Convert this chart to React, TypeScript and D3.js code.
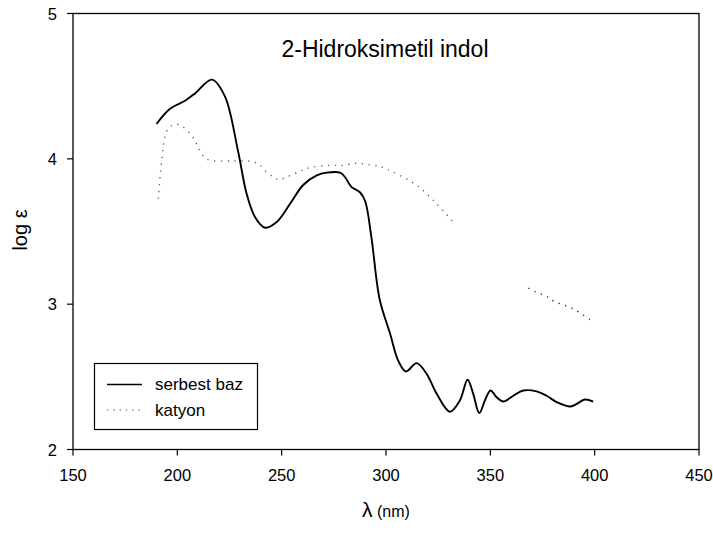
import React from "react";
import * as d3 from "d3";

const title = "2-Hidroksimetil indol";
const xTicks = [150, 200, 250, 300, 350, 400, 450];
const yTicks = [2, 3, 4, 5];

const bazX = [190, 196.5, 203.7, 208.5, 216.6, 222.8, 229, 233.2, 237.2, 242, 247.6, 254, 260.3, 266.8, 271.5, 278, 280.3, 283.5, 287.5, 290, 293, 297, 301.9, 305.9, 309.6, 314.7, 319.5, 324.3, 330.6, 335.4, 339.1, 341.8, 344.7, 347.4, 350.1, 353, 356.2, 361, 365.8, 372.2, 377, 381.8, 388.5, 391.4, 395.3, 399.3];
const bazY = [4.24, 4.345, 4.40, 4.45, 4.545, 4.43, 4.06, 3.76, 3.60, 3.526, 3.565, 3.69, 3.82, 3.886, 3.905, 3.905, 3.875, 3.805, 3.77, 3.71, 3.46, 3.03, 2.80, 2.61, 2.537, 2.594, 2.52, 2.383, 2.26, 2.337, 2.48, 2.383, 2.25, 2.337, 2.406, 2.36, 2.33, 2.37, 2.406, 2.40, 2.37, 2.326, 2.296, 2.314, 2.344, 2.33];

const katX = [190.9, 192.5, 194.1, 195.7, 198.9, 201.6, 206.9, 209.3, 212.4, 215.6, 226.8, 236.4, 239.6, 242.8, 246, 248.7, 251.6, 258, 263.6, 273.1, 279.5, 285.9, 291.5, 297.1, 300.8, 306.7, 315.5, 324.3, 332.2, 368.2, 371.4, 377.5, 380.5, 389.7, 399];
const katY = [3.725, 3.99, 4.15, 4.21, 4.237, 4.23, 4.16, 4.10, 4.02, 3.99, 3.985, 3.98, 3.955, 3.91, 3.875, 3.856, 3.87, 3.91, 3.94, 3.955, 3.955, 3.97, 3.96, 3.948, 3.927, 3.886, 3.81, 3.69, 3.565, 3.11, 3.087, 3.05, 3.02, 2.968, 2.88];
// a faint gap in the dotted curve between these wavelengths
const katGapFrom = 333;
const katGapTo = 367;

const legendNames = ["serbest baz", "katyon"];

export default function App() {
  const W = 713, H = 533;
  const left = 73, right = 699, top = 13.5, bottom = 449.5;
  const x = d3.scaleLinear().domain([150, 450]).range([left, right]);
  const y = d3.scaleLinear().domain([2, 5]).range([bottom, top]);

  const bazPts: [number, number][] = bazX.map((v, i) => [v, bazY[i]]);
  const katPts: [number, number][] = katX.map((v, i) => [v, katY[i]]);

  const line = d3
    .line<[number, number]>()
    .x((d) => x(d[0]))
    .y((d) => y(d[1]))
    .curve(d3.curveCatmullRom.alpha(0.5));

  const katA = katPts.filter((d) => d[0] < katGapFrom);
  const katB = katPts.filter((d) => d[0] > katGapTo);

  const font = "'Liberation Sans', Arial, sans-serif";

  return (
    <svg width={W} height={H} style={{ position: "absolute", left: 0, top: 0, background: "#fff" }} fontFamily={font}>
      <rect x={0} y={0} width={W} height={H} fill="#fff" />
      {/* frame */}
      <rect x={left} y={top} width={right - left} height={bottom - top} fill="none" stroke="#000" strokeWidth={1.3} />
      {/* y ticks */}
      {yTicks.map((t) => (
        <g key={"y" + t}>
          <line x1={left - 6} x2={left} y1={y(t)} y2={y(t)} stroke="#000" strokeWidth={1.2} />
          <text x={left - 16} y={y(t) + 6} textAnchor="end" fontSize={16.5}>
            {t}
          </text>
        </g>
      ))}
      {/* x ticks */}
      {xTicks.map((t) => (
        <g key={"x" + t}>
          <line x1={x(t)} x2={x(t)} y1={bottom} y2={bottom + 6} stroke="#000" strokeWidth={1.2} />
          <text x={x(t)} y={bottom + 31} textAnchor="middle" fontSize={16.5}>
            {t}
          </text>
        </g>
      ))}
      {/* axis labels */}
      <text transform={`translate(27,230) rotate(-90)`} textAnchor="middle" fontSize={20}>
        log ε
      </text>
      <text x={386} y={517} textAnchor="middle">
        <tspan fontSize={21}>λ</tspan>
        <tspan fontSize={16}> (nm)</tspan>
      </text>
      {/* title */}
      <text x={385} y={57} textAnchor="middle" fontSize={23}>
        {title}
      </text>
      {/* curves */}
      <path d={line(katA) || ""} fill="none" stroke="#666" strokeWidth={1.4} strokeDasharray="1.3 5.5" />
      <path d={line(katB) || ""} fill="none" stroke="#333" strokeWidth={1.4} strokeDasharray="1.3 5.5" />
      <path d={line(bazPts) || ""} fill="none" stroke="#000" strokeWidth={1.9} />
      {/* legend */}
      <rect x={94.5} y={363.5} width={163} height={66} fill="#fff" stroke="#000" strokeWidth={1.2} />
      <line x1={107} x2={142} y1={384.5} y2={384.5} stroke="#000" strokeWidth={1.6} />
      <line x1={107} x2={142} y1={410} y2={410} stroke="#888" strokeWidth={1.3} strokeDasharray="1.3 5" />
      <text x={155} y={390} fontSize={17}>
        {legendNames[0]}
      </text>
      <text x={155} y={416} fontSize={17}>
        {legendNames[1]}
      </text>
    </svg>
  );
}
